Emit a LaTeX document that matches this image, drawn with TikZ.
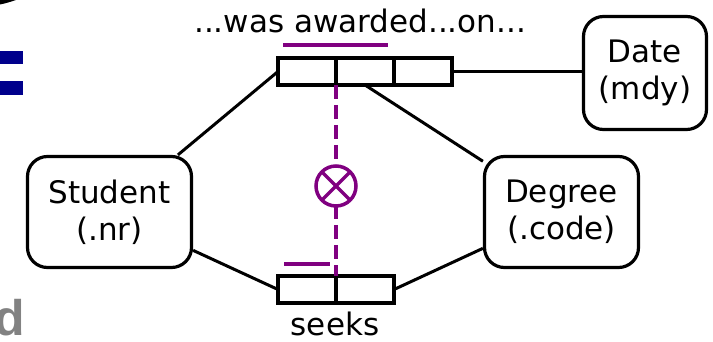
\documentclass[tikz,border=0pt]{standalone}
\usepackage{fontspec}
\setmainfont{DejaVu Sans}
\newfontfamily\slidefont{Liberation Sans}
\usetikzlibrary{calc}
\definecolor{keypurple}{RGB}{128,0,128}
\definecolor{slideblue}{RGB}{0,0,140}
\definecolor{slidegray}{RGB}{130,130,130}
\begin{document}
\begin{tikzpicture}[x=1pt,y=-1pt,
  every node/.style={font=\fontsize{31}{37}\selectfont},
  entity/.style={draw, line width=3.2pt, rounded corners=20pt, align=center, inner sep=0pt},
  cell/.style={draw, line width=3.2pt, minimum width=58pt, minimum height=27pt, inner sep=0pt, outer sep=0pt},
  link/.style={line width=3pt},
  uniqbar/.style={draw=keypurple, line width=4pt},
  uniqdash/.style={draw=keypurple, line width=3.5pt, dash pattern=on 14pt off 6pt},
  label/.style={anchor=base, inner sep=0pt}]
\useasboundingbox (0,0) rectangle (713,342);
\clip (0,0) rectangle (713,342);

% slide fragments along the left edge
\fill (0,0) -- (16,0) .. controls (10,2) and (5,3.5) .. (0,4.5) -- cycle;
\fill[slideblue] (0,51) rectangle (23,64);
\fill[slideblue] (0,81) rectangle (23,95);
\node[anchor=base west, inner sep=0pt, text=slidegray, font=\fontsize{50}{60}\slidefont\bfseries] (frag) at (-5.5,335) {d};

% entity types
\node[entity, minimum width=164pt, minimum height=111pt] (student) at (109.5,212) {Student\\(.nr)};
\node[entity, minimum width=154pt, minimum height=111pt] (degree) at (561.5,212) {Degree\\(.code)};
\node[entity, minimum width=123pt, minimum height=113pt] (date) at (645,73) {Date\\(mdy)};

% fact type ...was awarded...on...
\node[cell] (r1a) at (307,71.5) {};
\node[cell] (r1b) at (365,71.5) {};
\node[cell] (r1c) at (423,71.5) {};
\node[label] (r1lbl) at (360,33) {...was awarded...on...};

% fact type seeks
\node[cell] (s1a) at (307,289.5) {};
\node[cell] (s1b) at (365,289.5) {};
\node[label] (s1lbl) at (335,335) {seeks};

% role connectors
\draw[link] (student) -- (r1a.west);
\draw[link] (r1b.south) -- (degree);
\draw[link] (r1c.east) -- (r1c.east -| date.west);
\draw[link] (student) -- (s1a.west);
\draw[link] (s1b.east) -- (degree);

% uniqueness constraints
\draw[uniqbar] (283,45) -- (388,45);
\draw[uniqbar] (284,264) -- (330,264);

% exclusion constraint between the two roles
\draw[uniqdash] (r1a.south east) -- (s1a.north east);
\node[draw=keypurple, fill=white, circle, line width=3.5pt, minimum size=40pt, inner sep=0pt, outer sep=0pt] (excl) at (336,186) {};
\draw[keypurple, line width=3.5pt] (excl.north west) -- (excl.south east);
\draw[keypurple, line width=3.5pt] (excl.north east) -- (excl.south west);
\end{tikzpicture}
\end{document}
